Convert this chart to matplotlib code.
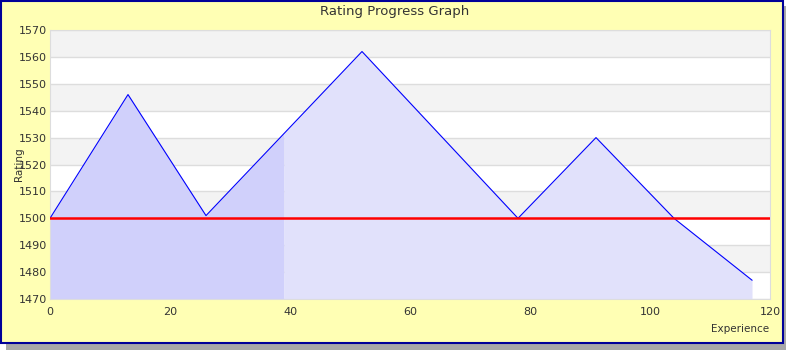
import matplotlib
matplotlib.use('Agg')
import matplotlib.pyplot as plt
import matplotlib.patches as patches

# --- data ---
experience = [0, 13, 26, 39, 52, 65, 78, 91, 104, 117]
rating = [1500, 1546, 1501, 1531.5, 1562, 1531, 1500, 1530, 1500, 1477]
start_rating = 1500
dark_until = 39  # first part of the fill is shaded darker

y_ticks = [1470, 1480, 1490, 1500, 1510, 1520, 1530, 1540, 1550, 1560, 1570]
x_ticks = [0, 20, 40, 60, 80, 100, 120]

fig = plt.figure(figsize=(7.9, 3.5), dpi=100)
fig.patch.set_facecolor('white')

# yellow panel with shadow and dark blue border
W, H = 790, 350
shadow = patches.Rectangle((6 / W, 0), 780 / W, (H - 6) / H, transform=fig.transFigure,
                           facecolor='#a8a8a8', edgecolor='none', zorder=-2)
panel = patches.Rectangle((1 / W, 7 / H), 782 / W, (H - 8) / H, transform=fig.transFigure,
                          facecolor='#ffffb4', edgecolor='#000099', linewidth=1.5, zorder=-1)
fig.patches.extend([shadow, panel])

ax = fig.add_axes([50 / W, 51 / H, 720 / W, 269 / H])
ax.set_zorder(5)
ax.set_facecolor('white')
ax.set_xlim(0, 120)
ax.set_ylim(1470, 1570)

# alternating horizontal bands + grid lines
for lo in y_ticks[:-1]:
    if (lo - 1470) % 20 == 10:
        ax.axhspan(lo, lo + 10, color='#f3f3f3', zorder=0, linewidth=0)
for y in y_ticks:
    ax.axhline(y, color='#dddddd', linewidth=1, zorder=0.5)

# filled area under the rating line
idx = experience.index(dark_until)
ax.fill_between(experience[:idx + 1], rating[:idx + 1], 1470, color='#d0d0fb', linewidth=0, zorder=1)
ax.fill_between(experience[idx:], rating[idx:], 1470, color='#e1e1fb', linewidth=0, zorder=1)
ax.plot(experience, rating, color='#0000ff', linewidth=0.8, zorder=3)
ax.axhline(start_rating, color='#ff0000', linewidth=1.8, zorder=4)

ax.set_xticks(x_ticks)
ax.set_yticks(y_ticks)
ax.tick_params(axis='y', length=0, labelsize=8, labelcolor='#333333', pad=2)
ax.tick_params(axis='x', length=0, labelsize=8, labelcolor='#333333', pad=6)
for s in ax.spines.values():
    s.set_color('#dddddd')

fig.text(395 / W, 1 - 11 / H, 'Rating Progress Graph', ha='center', va='center',
         fontsize=9.5, color='#333333', zorder=6)
fig.text(19 / W, 1 - 164 / H, 'Rating', ha='center', va='center', rotation=90,
         fontsize=7.5, color='#333333', zorder=6)
fig.text(769 / W, 1 - 329 / H, 'Experience', ha='right', va='center',
         fontsize=7.5, color='#333333', zorder=6)

fig.savefig('out.png', dpi=100, facecolor=fig.get_facecolor())
